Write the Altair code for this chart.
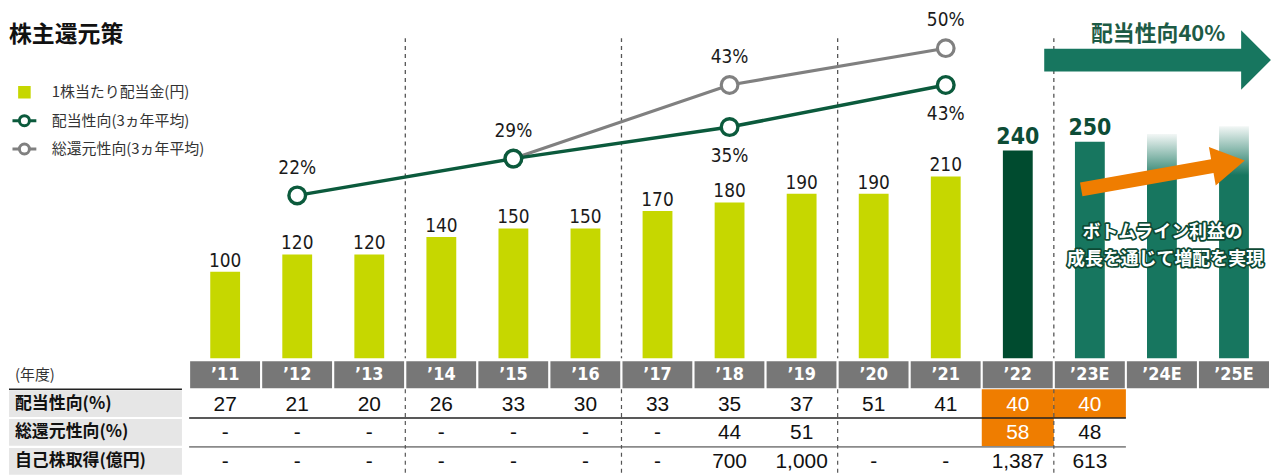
import altair as alt
import pandas as pd

# ---------------- data ----------------
years = ["’11", "’12", "’13", "’14", "’15", "’16", "’17", "’18", "’19",
         "’20", "’21", "’22", "’23E", "’24E", "’25E"]
dividend = [100, 120, 120, 140, 150, 150, 170, 180, 190, 190, 210, 240, 250]
bar_kind = ["実績"] * 11 + ["’22", "計画"]
outlook_years = ["’24E", "’25E"]
outlook_height = [259, 268]          # faded outlook bars (no label)
payout_years = ["’12", "’15", "’18", "’21"]
payout_avg = [22, 29, 35, 43]
payout_label_pos = ["above", "above", "below", "below"]
total_years = ["’15", "’18", "’21"]
total_avg = [29, 43, 50]
total_label_pos = ["none", "above", "above"]
series = ["1株当たり配当金(円)", "配当性向(3ヵ年平均)", "総還元性向(3ヵ年平均)"]

row_titles = ["(年度)", "配当性向(%)", "総還元性向(%)", "自己株取得(億円)"]
payout_row = ["27", "21", "20", "26", "33", "30", "33", "35", "37", "51", "41", "40", "40", "", ""]
total_row = ["-"] * 7 + ["44", "51", "", "", "58", "48", "", ""]
buyback_row = ["-"] * 7 + ["700", "1,000", "-", "-", "1,387", "613", "", ""]
highlight = [("’22", 1), ("’23E", 1), ("’22", 2)]
era_starts = ["’14", "’17", "’20", "’23E"]

title_text = "株主還元策"
policy_text = "配当性向40%"
growth_text = ["ボトムライン利益の", "成長を通じて増配を実現"]

# ---------------- styles ----------------
LIME = "#c6d700"
DARK = "#004b2f"
TEAL = "#17765f"
GREEN = "#0b5a3c"
GRAY = "#808080"
ORANGE = "#ef7d00"
JP = "Noto Sans CJK JP"
NUM = "Liberation Sans Narrow, DejaVu Sans Condensed, Roboto Condensed, Roboto, sans-serif"
TAB = "Liberation Sans, Arial, sans-serif"

W = 1268
H_TOP = 351
H_TAB = 116

idx = {y: i for i, y in enumerate(years)}
XS = alt.Scale(domain=[-2.5, 15], nice=False, zero=False, padding=0)
YB = alt.Scale(domain=[0, 403], nice=False, zero=False, padding=0)
YL = alt.Scale(domain=[-9.0, 57.4], nice=False, zero=False, padding=0)
YT = alt.Scale(domain=[0, 4], reverse=True, nice=False, zero=False, padding=0)


def X(f):
    return alt.X(f, type="quantitative", scale=XS, axis=None)


def YBf(f):
    return alt.Y(f, type="quantitative", scale=YB, axis=None)


def YLf(f):
    return alt.Y(f, type="quantitative", scale=YL, axis=None)


def YTf(f):
    return alt.Y(f, type="quantitative", scale=YT, axis=None)


# ---------------- top panel ----------------
bars_df = pd.DataFrame({"year": years[:13], "val": dividend, "kind": bar_kind})
bars_df["idx"] = bars_df["year"].map(idx)
out_df = pd.DataFrame({"year": outlook_years, "val": outlook_height})
out_df["idx"] = out_df["year"].map(idx)
pay_df = pd.DataFrame({"year": payout_years, "v": payout_avg, "pos": payout_label_pos})
pay_df["idx"] = pay_df["year"].map(idx)
tot_df = pd.DataFrame({"year": total_years, "v": total_avg, "pos": total_label_pos})
tot_df["idx"] = tot_df["year"].map(idx)
lab_df = pd.concat([pay_df, tot_df])
lab_df["txt"] = lab_df["v"].astype(str) + "%"
div_df = pd.DataFrame({"b": [idx[y] for y in era_starts]})

calc = dict(c="datum.idx + 0.5")

dividers = alt.Chart(div_df).mark_rule(strokeDash=[4, 4], color="#555", strokeWidth=1.3).encode(
    x=X("b"), y=alt.value(29), y2=alt.value(H_TOP))

bars = alt.Chart(bars_df).transform_calculate(**calc).mark_bar(orient="vertical", size=30).encode(
    x=X("c"), y=YBf("val"),
    color=alt.Color("kind:N", scale=alt.Scale(domain=["実績", "’22", "計画"], range=[LIME, DARK, TEAL]),
                    legend=None))

grad = {"gradient": "linear", "x1": 0, "x2": 0, "y1": 0, "y2": 1,
        "stops": [{"offset": 0, "color": "#f3f7f6"}, {"offset": 0.21, "color": TEAL},
                  {"offset": 1, "color": TEAL}]}
out_bars = alt.Chart(out_df).transform_calculate(**calc).mark_bar(orient="vertical", size=30, color=grad).encode(
    x=X("c"), y=YBf("val"))

bar_lab = alt.Chart(bars_df).transform_calculate(**calc).transform_filter("datum.kind == '実績'").mark_text(
    font=NUM, fontSize=19, color="#1a1a1a", baseline="alphabetic", dy=-5).encode(
    x=X("c"), y=YBf("val"), text="val:Q")
bar_lab_b = alt.Chart(bars_df).transform_calculate(**calc).transform_filter("datum.kind != '実績'").mark_text(
    font=NUM, fontSize=23, fontWeight="bold", color="#0d4c36", baseline="alphabetic", dy=-7).encode(
    x=X("c"), y=YBf("val"), text="val:Q")

tot_line = alt.Chart(tot_df).transform_calculate(**calc).mark_line(color=GRAY, strokeWidth=3.2).encode(
    x=X("c"), y=YLf("v"))
tot_pts = alt.Chart(tot_df).transform_calculate(**calc).mark_circle(
    fill="white", stroke=GRAY, strokeWidth=3.2, size=280, opacity=1).encode(x=X("c"), y=YLf("v"))
pay_line = alt.Chart(pay_df).transform_calculate(**calc).mark_line(color=GREEN, strokeWidth=3.5).encode(
    x=X("c"), y=YLf("v"))
pay_pts = alt.Chart(pay_df).transform_calculate(**calc).mark_circle(
    fill="white", stroke=GREEN, strokeWidth=3.4, size=280, opacity=1).encode(x=X("c"), y=YLf("v"))

lab_above = alt.Chart(lab_df).transform_calculate(**calc).transform_filter("datum.pos == 'above'").mark_text(
    font=NUM, fontSize=19, color="#1a1a1a", baseline="middle", dy=-28).encode(
    x=X("c"), y=YLf("v"), text="txt:N")
lab_below = alt.Chart(lab_df).transform_calculate(**calc).transform_filter("datum.pos == 'below'").mark_text(
    font=NUM, fontSize=19, color="#1a1a1a", baseline="middle", dy=29).encode(
    x=X("c"), y=YLf("v"), text="txt:N")

# annotation shapes (arrows) -- positions are annotation placements
BIG_ARROW = "M -1 -0.1 L 0.737 -0.1 L 0.737 -0.263 L 1 0 L 0.737 0.263 L 0.737 0.1 L -1 0.1 Z"
ORANGE_ARROW = "M -1 -0.084 L 0.603 -0.084 L 0.603 -0.236 L 1 0 L 0.603 0.236 L 0.603 0.084 L -1 0.084 Z"
big_arrow = alt.Chart(pd.DataFrame({"x": [13.44], "y": [344.4]})).mark_point(
    shape=BIG_ARROW, size=228 ** 2, filled=True, color=TEAL, opacity=1, strokeWidth=0).encode(
    x=X("x"), y=YBf("y"))
policy = alt.Chart(pd.DataFrame({"x": [13.447], "y": [374.3], "t": [policy_text]})).mark_text(
    font=JP, fontSize=22, fontWeight="bold", color="#1d5b45", baseline="middle").encode(
    x=X("x"), y=YBf("y"), text="t:N")
orange_arrow = alt.Chart(pd.DataFrame({"x": [13.515], "y": [211.8]})).mark_point(
    shape=ORANGE_ARROW, size=167 ** 2, filled=True, color=ORANGE, opacity=1, angle=350, strokeWidth=0).encode(
    x=X("x"), y=YBf("y"))
gt_df = pd.DataFrame({"x": [13.51, 13.55], "y": [144.7, 113.7], "t": growth_text})
growth_outline = alt.Chart(gt_df).mark_text(
    font=JP, fontSize=18, fontWeight="bold", color="#0d4a35", stroke="#0d4a35", strokeWidth=3.5,
    strokeJoin="round", baseline="middle").encode(x=X("x"), y=YBf("y"), text="t:N")
growth_fill = alt.Chart(gt_df).mark_text(
    font=JP, fontSize=18, fontWeight="bold", color="white", baseline="middle").encode(
    x=X("x"), y=YBf("y"), text="t:N")

# legend (dummy invisible layer carrying the merged legend)
SQ = "M -0.4 -0.4 L 0.4 -0.4 L 0.4 0.4 L -0.4 0.4 Z"
RING = ("M -1 0 L -0.42 0 M 0.42 0 L 1 0 M 0.42 0 A 0.42 0.42 0 1 1 -0.42 0 "
        "A 0.42 0.42 0 1 1 0.42 0 Z")
leg = alt.Legend(title=None, orient="none", legendX=2, legendY=70, padding=0,
                 symbolSize=576, symbolStrokeWidth=3, symbolOpacity=1, labelOffset=14,
                 rowPadding=3.5, labelFont=JP, labelFontSize=15, labelColor="#333")
leg_df = pd.DataFrame({"s": series, "x": [1.0] * 3, "y": [200] * 3})
legend_layer = alt.Chart(leg_df).mark_point(opacity=0, size=576).encode(
    x=X("x"), y=YBf("y"),
    shape=alt.Shape("s:N", scale=alt.Scale(domain=series, range=[SQ, RING, RING]), legend=leg),
    fill=alt.Fill("s:N", scale=alt.Scale(domain=series, range=[LIME, "white", "white"]), legend=leg),
    stroke=alt.Stroke("s:N", scale=alt.Scale(domain=series, range=[LIME, GREEN, GRAY]), legend=leg),
)

top = alt.layer(
    dividers, big_arrow, policy, bars, out_bars, bar_lab, bar_lab_b,
    tot_line, tot_pts, pay_line, pay_pts, lab_above, lab_below,
    orange_arrow, growth_outline, growth_fill, legend_layer,
).resolve_scale(y="independent").properties(
    width=W, height=H_TOP,
    title=alt.TitleParams(title_text, anchor="start", font=JP, fontSize=23, fontWeight="bold",
                          color="#111", offset=-38, frame="group"),
)

# ---------------- table panel ----------------
rows = []
for r, vals in enumerate([years, payout_row, total_row, buyback_row]):
    for i, v in enumerate(vals):
        rows.append({"row": r, "idx": i, "t": v,
                     "hl": (years[i], r) in highlight})
cells = pd.DataFrame(rows)
titles = pd.DataFrame({"row": range(4), "t": row_titles, "x": [-2.5] * 4})
cell_calc = dict(x1="datum.idx", x2="datum.idx + 1", c="datum.idx + 0.5",
                 r2="datum.row + 1", rc="datum.row + 0.5")

label_bg = alt.Chart(titles).transform_filter("datum.row > 0").transform_calculate(
    r1="datum.row + 0.035", r2="datum.row + 0.965", xe="-0.1").mark_rect(color="#e6e6e6").encode(
    x=X("x"), x2="xe:Q", y=YTf("r1"), y2="r2:Q")
header = alt.Chart(cells).transform_filter("datum.row == 0").transform_calculate(**cell_calc).mark_rect(
    color="#777777", stroke="white", strokeWidth=2).encode(x=X("x1"), x2="x2:Q", y=YTf("row"), y2="r2:Q")
hl_cells = alt.Chart(cells).transform_filter("datum.hl").transform_calculate(**cell_calc).mark_rect(
    color=ORANGE).encode(x=X("x1"), x2="x2:Q", y=YTf("row"), y2="r2:Q")

rule_df = pd.DataFrame({"x": [0, 0, -2.5], "xe": [13, 13, -0.1], "y": [2, 3, 1],
                        "k": ["black", "gray", "top"]})
rule_black = alt.Chart(rule_df).transform_filter("datum.k != 'gray'").mark_rule(
    color="#222", strokeWidth=1.5).encode(x=X("x"), x2="xe:Q", y=YTf("y"))
rule_gray = alt.Chart(rule_df).transform_filter("datum.k == 'gray'").mark_rule(
    color="#8a8a8a", strokeWidth=2).encode(x=X("x"), x2="xe:Q", y=YTf("y"))
tab_div = alt.Chart(div_df).transform_calculate(y1="1", y2="4").mark_rule(
    strokeDash=[4, 4], color="#555", strokeWidth=1.2).encode(x=X("b"), y=YTf("y1"), y2="y2:Q")

head_txt = alt.Chart(cells).transform_filter("datum.row == 0").transform_calculate(**cell_calc).mark_text(
    font=NUM, fontSize=18, fontWeight="bold", color="white", baseline="middle").encode(
    x=X("c"), y=YTf("rc"), text="t:N")
val_txt = alt.Chart(cells).transform_filter("datum.row > 0").transform_calculate(**cell_calc).mark_text(
    font=TAB, fontSize=21, baseline="middle", dy=1).encode(
    x=X("c"), y=YTf("rc"), text="t:N",
    color=alt.condition("datum.hl", alt.value("white"), alt.value("#111")))
title_norm = alt.Chart(titles).transform_filter("datum.row == 0").transform_calculate(
    rc="datum.row + 0.5").mark_text(font=JP, fontSize=15, color="#333", align="left",
                                    baseline="middle", dx=6).encode(x=X("x"), y=YTf("rc"), text="t:N")
title_bold = alt.Chart(titles).transform_filter("datum.row > 0").transform_calculate(
    rc="datum.row + 0.5").mark_text(font=JP, fontSize=17, fontWeight="bold", color="#111", align="left",
                                    baseline="middle", dx=6).encode(x=X("x"), y=YTf("rc"), text="t:N")

table = alt.layer(
    label_bg, header, hl_cells, rule_black, rule_gray, tab_div, head_txt, val_txt, title_norm, title_bold
).properties(width=W, height=H_TAB)

chart = alt.vconcat(top, table, spacing=0).resolve_scale(
    x="independent", y="independent").configure_view(stroke=None).properties(padding=0)

chart.save("out.html", embed_options={"renderer": "svg", "actions": False})
